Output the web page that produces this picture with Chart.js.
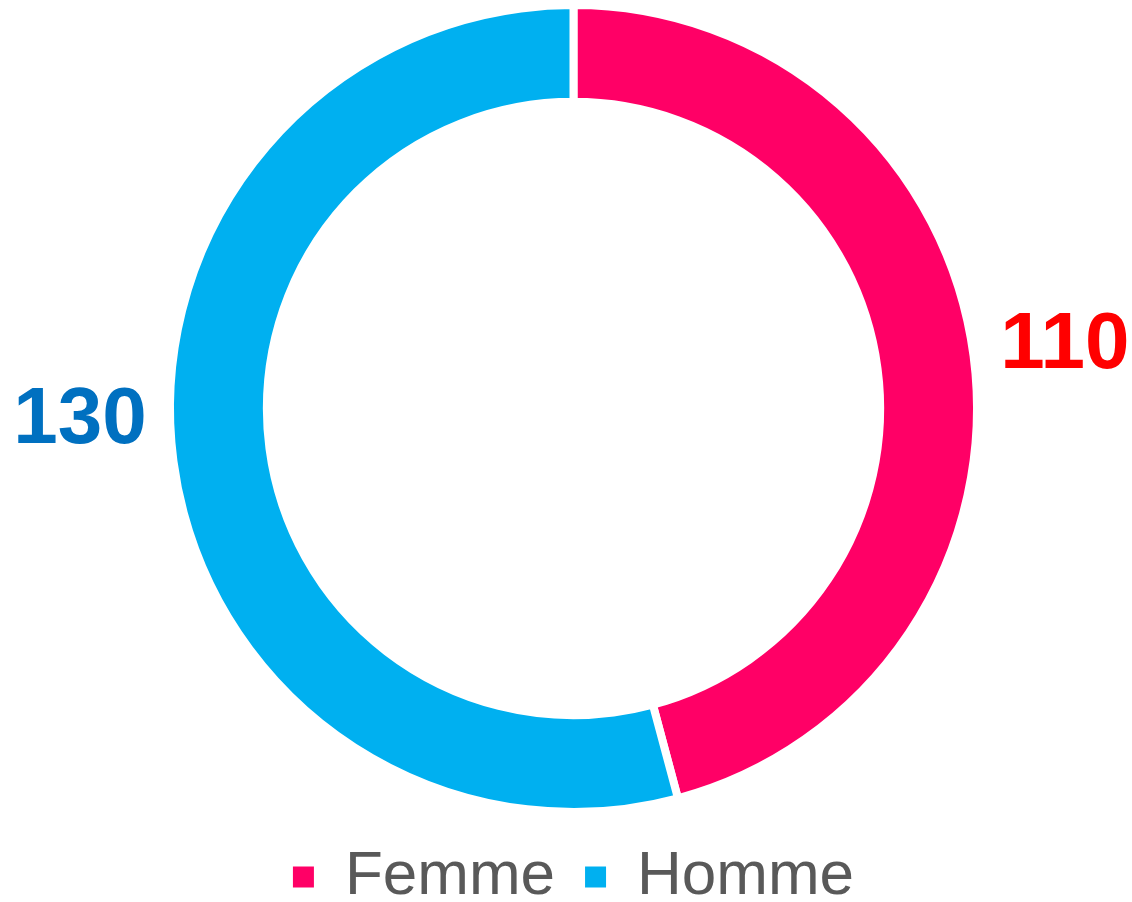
<!DOCTYPE html>
<html>
<head>
<meta charset="utf-8">
<script src="https://cdn.jsdelivr.net/npm/chart.js@4/dist/chart.umd.min.js"></script>
<style>
  html, body { margin: 0; padding: 0; background: #fff; }
  #wrap { width: 1132px; height: 902px; }
</style>
</head>
<body>
<div id="wrap"><canvas id="donut"></canvas></div>
<script>
const categories = ["Femme", "Homme"];
const counts = [110, 130];
const sliceColors = ["#FF0066", "#00B0F0"];
const labelColors = ["#FF0000", "#0070C0"];

// value labels outside the ring (like Excel "outside end")
const outsideLabels = {
  id: "outsideLabels",
  afterDatasetsDraw(chart, args, opts) {
    const ctx = chart.ctx;
    const arcs = chart.getDatasetMeta(0).data;
    ctx.save();
    ctx.font = "bold 80px 'Liberation Sans', Arial, sans-serif";
    ctx.textBaseline = "middle";
    arcs.forEach((arc, i) => {
      const p = arc.getProps(["x", "y", "startAngle", "endAngle", "outerRadius"], true);
      const mid = (p.startAngle + p.endAngle) / 2;
      const c = Math.cos(mid);
      const s = Math.sin(mid);
      const tx = p.x + c * (p.outerRadius + opts.gap);
      const ty = p.y + s * p.outerRadius + opts.dy[i];
      ctx.textAlign = c >= 0 ? "left" : "right";
      ctx.fillStyle = labelColors[i];
      ctx.fillText(String(counts[i]), tx, ty);
    });
    ctx.restore();
  },
};

new Chart(document.getElementById("donut"), {
  type: "doughnut",
  data: {
    labels: categories,
    datasets: [
      {
        data: counts,
        backgroundColor: sliceColors,
        borderColor: "#ffffff",
        borderWidth: 8,
        hoverOffset: 0,
      },
    ],
  },
  options: {
    responsive: true,
    maintainAspectRatio: false,
    animation: false,
    cutout: "76%",
    layout: {
      padding: { top: 1, left: 15, right: 0, bottom: -16 },
    },
    plugins: {
      tooltip: { enabled: false },
      outsideLabels: { gap: 27, dy: [-10, -40] },
      legend: {
        position: "bottom",
        labels: {
          boxWidth: 21,
          boxHeight: 21,
          padding: 30,
          color: "#595959",
          font: { family: "'Liberation Sans', Arial, sans-serif", size: 62 },
          generateLabels(chart) {
            return categories.map((name, i) => ({
              text: name,
              fillStyle: sliceColors[i],
              strokeStyle: sliceColors[i],
              lineWidth: 0,
              fontColor: "#595959",
              index: i,
              hidden: false,
            }));
          },
        },
      },
    },
  },
  plugins: [outsideLabels],
});
</script>
</body>
</html>
